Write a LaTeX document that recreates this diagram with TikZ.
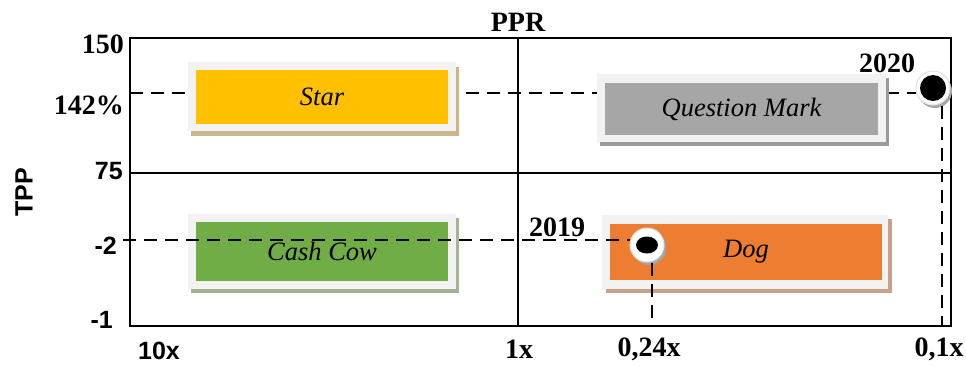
\documentclass[tikz,border=0pt]{standalone}
\usepackage{fontspec}
\setmainfont{Liberation Serif}
\newfontfamily\sansbold{Liberation Sans}
\usetikzlibrary{shapes.geometric,shadows}
\definecolor{boxrim}{HTML}{F2F2F2}
\definecolor{cstar}{HTML}{FFC000}
\definecolor{cqm}{HTML}{A6A6A6}
\definecolor{ccow}{HTML}{70AD47}
\definecolor{cdog}{HTML}{ED7D31}
\definecolor{shstar}{HTML}{C8B88C}
\definecolor{shqm}{HTML}{9A9A9A}
\definecolor{shcow}{HTML}{A3B394}
\definecolor{shdog}{HTML}{C9A088}
\tikzset{
  axisline/.style={line width=1.4pt},
  dashline/.style={line width=1.3pt, dash pattern=on 13pt off 8pt},
  serlab/.style={font=\fontsize{28}{32}\selectfont\bfseries, inner sep=0pt},
  sanlab/.style={font=\fontsize{25}{30}\selectfont\sansbold\bfseries, inner sep=0pt},
  rim/.style={fill=boxrim, inner sep=0pt},
  core/.style={inner sep=0pt, font=\fontsize{26.5}{30}\selectfont\itshape},
  ring/.style={circle, fill=white, draw=black!12, line width=1pt, minimum size=34pt, inner sep=0pt,
     drop shadow={shadow xshift=2pt, shadow yshift=-3pt, fill=black!35, opacity=1}},
}
\begin{document}
\begin{tikzpicture}[x=1pt,y=-1pt]
\useasboundingbox (0,0) rectangle (966,365);
% frame
\coordinate (tl) at (130,38);
\coordinate (br) at (951,326);
\draw[axisline] (tl) rectangle (br);
\coordinate (midl) at (130,173);
\coordinate (midr) at (951,173);
\coordinate (midt) at (518,38);
\coordinate (midb) at (518,326);
\draw[axisline] (midl) -- (midr);
\draw[axisline] (midt) -- (midb);
% axis labels
\node[serlab] (ppr) at (518,22) {PPR};
\node[sanlab, rotate=90] (tpp) at (24,192) {TPP};
\node[serlab, anchor=east] (l150) at (124,44) {150};
\node[serlab, anchor=east] (l142) at (124,105) {142\%};
\node[sanlab, anchor=east] (l75) at (123,171) {75};
\node[sanlab, anchor=east] (lm2) at (117,246) {-2};
\node[sanlab, anchor=east] (lm1) at (113,320) {-1};
\node[sanlab] (x10) at (159,351) {10x};
\node[serlab] (x1) at (519,349) {1x};
\node[serlab] (x024) at (649,349) {0,24x};
\node[serlab] (x01) at (939,349) {0,1x};
% dashed line 142%
\coordinate (y142) at (130,93);
\node[ring] (d2020) at (933,88) {};
\draw[dashline] (y142) -- (y142 -| d2020.west);
% boxes top
\node[rim, minimum width=268pt, minimum height=69pt,
  drop shadow={shadow xshift=3pt, shadow yshift=-5pt, fill=shstar, opacity=1}] (starrim) at (322,96.5) {};
\node[core, fill=cstar, minimum width=252pt, minimum height=54pt] (star) at (322,97) {Star};
\node[rim, minimum width=289pt, minimum height=68pt,
  drop shadow={shadow xshift=3pt, shadow yshift=-4pt, fill=shqm, opacity=1}] (qmrim) at (741.5,108) {};
\node[core, fill=cqm, minimum width=273pt, minimum height=52pt] (qm) at (741.5,109) {Question Mark};
% boxes bottom
\node[rim, minimum width=286pt, minimum height=74pt,
  drop shadow={shadow xshift=4pt, shadow yshift=-4pt, fill=shdog, opacity=1}] (dogrim) at (745,252) {};
\node[core, fill=cdog, minimum width=272pt, minimum height=56pt] (dog) at (746,252) {Dog};
\node[rim, minimum width=268pt, minimum height=75pt,
  drop shadow={shadow xshift=3pt, shadow yshift=-4pt, fill=shcow, opacity=1}] (cowrim) at (322,251.5) {};
\node[core, fill=ccow, minimum width=252pt, minimum height=59pt] (cow) at (322,251.5) {Cash Cow};
% 2019 point
\node[ring] (d2019) at (647,245) {};
\node[ellipse, fill=black, minimum width=22pt, minimum height=17pt, inner sep=0pt] (b2019) at (d2019) {};
\node[circle, fill=black, minimum size=26pt, inner sep=0pt] (b2020) at (d2020) {};
\coordinate (ym2) at (123,240);
\draw[dashline] (ym2) -- (ym2 -| d2019.west);
\coordinate (bx024) at (652,326);
\draw[dashline] (bx024 |- d2019.south) -- (bx024);
\coordinate (bx01) at (942,326);
\draw[dashline] (bx01 |- d2020.south) -- (bx01);
% year labels
\node[serlab] (t2019) at (557,227) {2019};
\node[serlab] (t2020) at (887,63) {2020};
\end{tikzpicture}
\end{document}
